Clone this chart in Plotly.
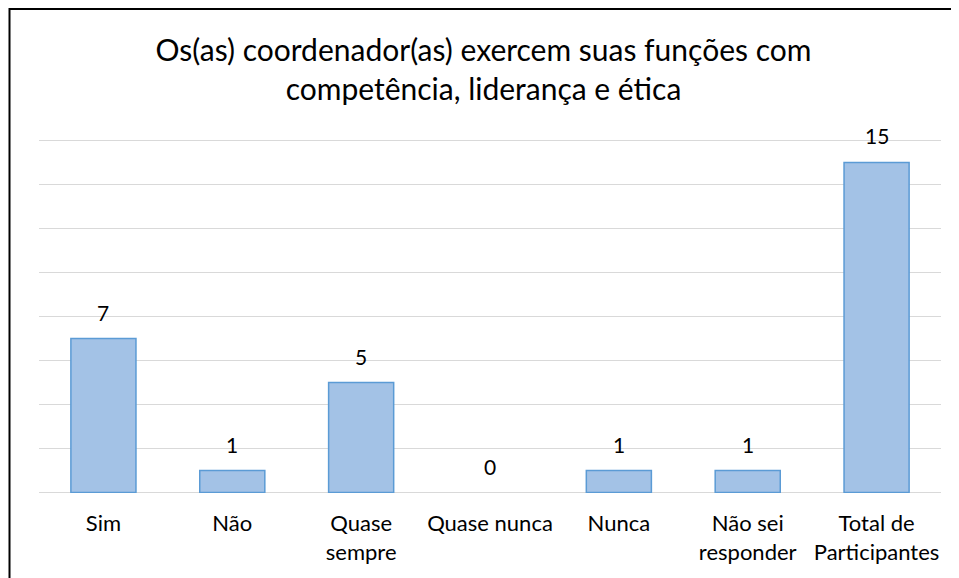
import plotly.graph_objects as go

categories = ["Sim", "Não", "Quase<br>sempre", "Quase nunca", "Nunca", "Não sei<br>responder", "Total de<br>Participantes"]
values = [7, 1, 5, 0, 1, 1, 15]
y_ticks = [0, 2, 4, 6, 8, 10, 12, 14, 16]
title_text = "Os(as) coordenador(as) exercem suas funções com<br>competência, liderança e ética"

FONT = "Lato"
W, H = 951, 570
GRID = "#d9d9d9"

fig = go.Figure()
fig.add_trace(go.Bar(
    x=categories, y=values,
    marker=dict(color="#a3c2e6",
                line=dict(color="#5b9bd5", width=[1.5 if v > 0 else 0 for v in values])),
    width=0.505,
    hoverinfo="skip",
))

for c, v in zip(categories, values):
    fig.add_annotation(x=c, y=v, text=str(v), showarrow=False, yanchor="bottom",
                       yshift=12, font=dict(family=FONT, size=21, color="#000000"))

# gridlines at the range ends (plotly omits edge gridlines)
for t in (y_ticks[0], y_ticks[-1]):
    fig.add_hline(y=t, line=dict(color=GRID, width=1.3), layer="below")

fig.add_shape(type="rect", xref="paper", yref="paper", x0=-0.0327, x1=1.2, y0=-0.6, y1=1.371,
              line=dict(color="#000000", width=2), fillcolor="rgba(0,0,0,0)", layer="above")

fig.update_layout(
    width=W, height=H,
    margin=dict(l=31, r=18, t=131.5, b=84.6),
    paper_bgcolor="white", plot_bgcolor="white",
    showlegend=False,
    title=dict(text=title_text, x=0.5, xref="container", xanchor="center",
               y=1 - 53/H, yref="container", yanchor="top",
               font=dict(family=FONT, size=30, color="#000000")),
    font=dict(family=FONT, size=22, color="#000000"),
)
fig.update_yaxes(range=[-0.02, 16.02], tickvals=y_ticks, showticklabels=False, showgrid=True,
                 gridcolor=GRID, gridwidth=1.3, zeroline=False, showline=False, fixedrange=True)
fig.update_xaxes(showgrid=False, showline=False, zeroline=False, ticks="outside", ticklen=11,
                 tickcolor="rgba(0,0,0,0)", tickfont=dict(family=FONT, size=22, color="#000000"),
                 fixedrange=True)

fig.write_html("out.html")
